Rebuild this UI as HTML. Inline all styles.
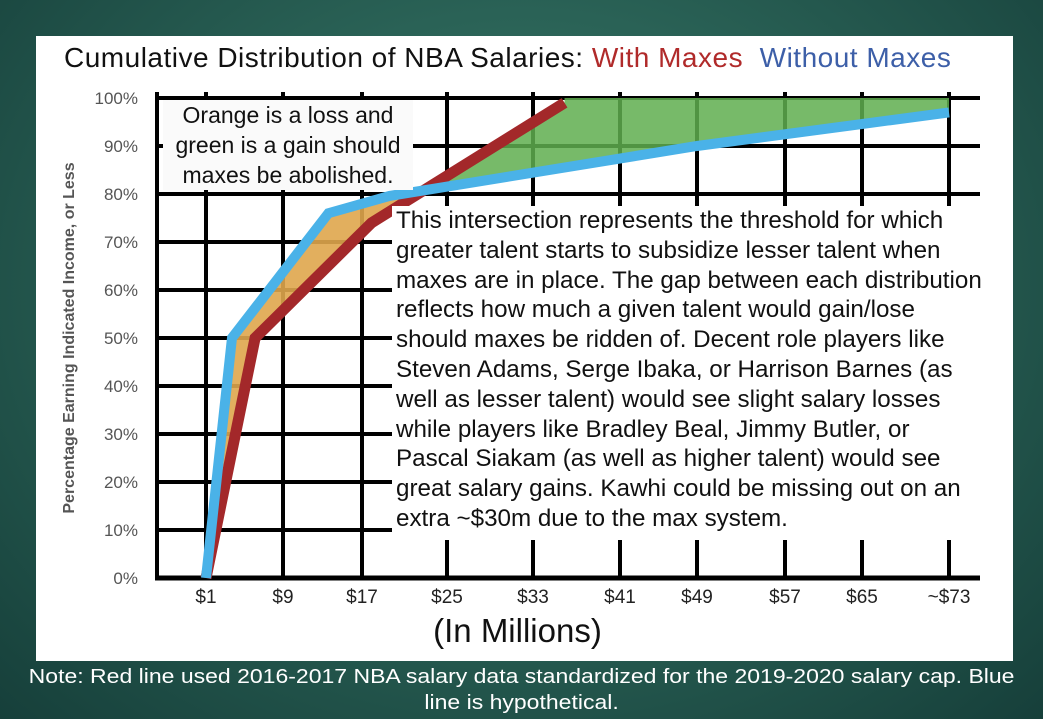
<!DOCTYPE html>
<html><head><meta charset="utf-8">
<style>
html,body{margin:0;padding:0;}
body{width:1043px;height:719px;overflow:hidden;position:relative;font-family:"Liberation Sans",Arial,sans-serif;
background:radial-gradient(ellipse at 50% 40%,#3f7d6c 0%,#2a6256 45%,#163f3a 100%);}
#panel{position:absolute;left:36px;top:36px;width:977px;height:625px;background:#fff;}
#title{position:absolute;left:64px;top:42px;font-size:28px;letter-spacing:0.5px;color:#111;white-space:nowrap;}
#note{position:absolute;left:0;top:664px;width:1043px;text-align:center;color:#fff;font-size:20px;line-height:26px;transform:scaleX(1.15);transform-origin:521px 0;}
#box1{position:absolute;left:163px;top:100px;width:250px;background:#fafafa;text-align:center;font-size:23px;line-height:30px;color:#111;white-space:nowrap;}
#box2{position:absolute;left:392px;top:206px;width:585px;background:#fff;font-size:24.2px;line-height:29.8px;color:#111;padding:0 0 6px 4px;white-space:nowrap;}
#ytitle{position:absolute;left:70px;top:338px;transform:translate(-50%,-50%) rotate(-90deg);white-space:nowrap;font-weight:bold;font-size:16px;color:#555;}
#xtitle{position:absolute;left:0;width:1043px;top:612px;text-align:center;font-size:33px;color:#111;margin-left:-4px;}
svg{position:absolute;left:0;top:0;}
</style></head><body>
<div id="panel"></div>
<svg id="chart" width="1043" height="719"></svg>
<div id="title">Cumulative Distribution of NBA Salaries: <span style="color:#b02a2a">With Maxes</span>&nbsp; <span style="color:#3d5fa8">Without Maxes</span></div>
<div id="box1">Orange is a loss and<br>green is a gain should<br>maxes be abolished.</div>
<div id="box2">This intersection represents the threshold for which<br>greater talent starts to subsidize lesser talent when<br>maxes are in place. The gap between each distribution<br>reflects how much a given talent would gain/lose<br>should maxes be ridden of. Decent role players like<br>Steven Adams, Serge Ibaka, or Harrison Barnes (as<br>well as lesser talent) would see slight salary losses<br>while players like Bradley Beal, Jimmy Butler, or<br>Pascal Siakam (as well as higher talent) would see<br>great salary gains. Kawhi could be missing out on an<br>extra ~$30m due to the max system.</div>
<div id="ytitle">Percentage Earning Indicated Income, or Less</div>
<div id="xtitle">(In Millions)</div>
<div id="note">Note: Red line used 2016-2017 NBA salary data standardized for the 2019-2020 salary cap. Blue<br>line is hypothetical.</div>
<script>
const xTickValues=[1,9,17,25,33,41,49,57,65,73];
const xTickLabels=["$1","$9","$17","$25","$33","$41","$49","$57","$65","~$73"];
const yTickValues=[0,10,20,30,40,50,60,70,80,90,100];
const redSalary=[1,6.1,17.9,35.9];
const redPct=[0,50,74,99];
const blueSalary=[1,3.7,13.6,19.6,49,73];
const bluePct=[0,50,76,79.6,90,97];
const tickPx=[206,283,362,447,533,620,697,785,862,949];
function xs(v){
  for(let i=0;i<xTickValues.length-1;i++){
    if(v<=xTickValues[i+1]||i===xTickValues.length-2){
      const t=(v-xTickValues[i])/(xTickValues[i+1]-xTickValues[i]);
      return tickPx[i]+t*(tickPx[i+1]-tickPx[i]);
    }
  }
}
function ys(p){return 578-p*4.8;}
const svgEl=document.getElementById('chart');
const NS='http://www.w3.org/2000/svg';
function mk(tag,attrs){const e=document.createElementNS(NS,tag);for(const k in attrs)e.setAttribute(k,attrs[k]);svgEl.appendChild(e);return e;}
yTickValues.forEach((p)=>{
  const l=mk('line',{x1:155,x2:p>=80?980:400,y1:ys(p),y2:ys(p),stroke:'#000','stroke-width':4});
  
  
  const t=mk('text',{x:138,y:ys(p)+6,'text-anchor':'end','font-size':17,fill:'#555','font-family':'Liberation Sans, sans-serif'});
  t.textContent=p+'%';
  
  
});
const baseLine=mk('line',{x1:155,x2:980,y1:ys(0),y2:ys(0),stroke:'#000','stroke-width':5});


xTickValues.forEach((v,i)=>{
  const x=xs(v);
  const l=mk('line',{x1:x,x2:x,y1:ys(100)-6,y2:ys(0),stroke:'#000','stroke-width':4});
  
  
  const t=mk('text',{x:x,y:603,'text-anchor':'middle','font-size':19,fill:'#222','font-family':'Liberation Sans, sans-serif'});
  t.textContent=xTickLabels[i];
  
  
});
const leftAxis=mk('line',{x1:157,x2:157,y1:ys(100)-6,y2:ys(0),stroke:'#000','stroke-width':4});


const R=redSalary.map((v,i)=>[xs(v),ys(redPct[i])]);
const B=blueSalary.map((v,i)=>[xs(v),ys(bluePct[i])]);
function yAt(P,x){for(let i=0;i<P.length-1;i++){if(x>=P[i][0]&&x<=P[i+1][0]){const t=(x-P[i][0])/(P[i+1][0]-P[i][0]||1);return P[i][1]+t*(P[i+1][1]-P[i][1]);}}return null;}
let ix=R[R.length-1][0],iy=R[R.length-1][1];
for(let x=R[1][0];x<=R[R.length-1][0];x+=0.5){const a=yAt(R,x),b=yAt(B,x);if(a!==null&&b!==null&&a<=b){ix=x;iy=a;break;}}
const orange=B.filter(p=>p[0]<ix).concat([[ix,iy]]).concat(R.filter(p=>p[0]<ix).reverse());
const o=mk('polygon',{points:orange.map(p=>p.join(',')).join(' '),fill:'#dfa64c','fill-opacity':0.9});


const topY=ys(100);
const rEnd=R[R.length-1],bEnd=B[B.length-1];
const green=[[ix,iy]].concat(R.filter(p=>p[0]>ix)).concat([[rEnd[0],topY],[bEnd[0],topY]]).concat(B.filter(p=>p[0]>ix).reverse());
const g=mk('polygon',{points:green.map(p=>p.join(',')).join(' '),fill:'#5fae4f','fill-opacity':0.85});


const rl=mk('polyline',{points:R.map(p=>p.join(',')).join(' '),fill:'none',stroke:'#a3282a','stroke-width':11,'stroke-linejoin':'miter'});


const bl=mk('polyline',{points:B.map(p=>p.join(',')).join(' '),fill:'none',stroke:'#4ab2e8','stroke-width':10,'stroke-linejoin':'miter'});


</script>
</body></html>
